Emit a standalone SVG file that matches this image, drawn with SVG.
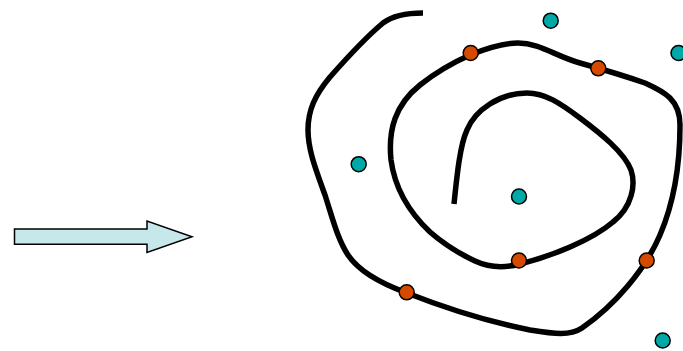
<svg xmlns="http://www.w3.org/2000/svg" width="683" height="351" viewBox="0 0 683 351">
<style>
.spiral{fill:none;stroke:#000;stroke-width:5.5;stroke-linecap:butt;stroke-linejoin:round}
.arrow{fill:#C7E8EA;stroke:#000;stroke-width:1.5;stroke-linejoin:miter}
.red{fill:#D64A00;stroke:#000;stroke-width:1.5}
.teal{fill:#00A8A8;stroke:#000;stroke-width:1.5}
</style>
<rect width="683" height="351" fill="#fff"/>
<g id="arrow">
<path class="arrow" d="M14.5,229 L147,229 L147,221 L192,236.7 L147,252.5 L147,244.3 L14.5,244.3 Z"/>
</g>
<g id="connectors">
<path id="spiral" class="spiral" d="M454,204 C457,175 460,145 467,130 C475,110 500,93 527,93 C545,93 560,103 580,118 C600,133 624,152 631,170 C636,185 632,207 613,222 C592,240 552,256 520,264 C505,268 490,268 475,261 C460,254 445,245 430,232 C410,213 395,190 391,160 C388,130 395,105 420,85 C435,73 452,63 470,55 C490,47 505,43 518,43 C540,43 555,56 580,63 C605,70 625,76 645,83 C665,92 680,100 680,125 C680,160 675,200 660,235 C645,270 615,305 582,328 C570,336 555,334 530,330 C490,322 445,308 407,293 C385,285 360,273 348,255 C338,240 333,220 325,195 C316,170 308,150 308,130 C308,110 315,95 330,77 C345,60 365,38 383,23 C395,14 410,13 423,13"/>
</g>
<g id="red1"><circle class="red" cx="470.7" cy="53" r="7.5"/></g>
<g id="red2"><circle class="red" cx="598.3" cy="68.3" r="7.5"/></g>
<g id="red3"><circle class="red" cx="519" cy="260.5" r="7.5"/></g>
<g id="red4"><circle class="red" cx="646.7" cy="260.5" r="7.5"/></g>
<g id="red5"><circle class="red" cx="406.7" cy="292.3" r="7.5"/></g>
<g id="teal1"><circle class="teal" cx="550.7" cy="20.7" r="7.5"/></g>
<g id="teal2"><circle class="teal" cx="678.5" cy="53" r="7.5"/></g>
<g id="teal3"><circle class="teal" cx="358.7" cy="164.2" r="7.5"/></g>
<g id="teal4"><circle class="teal" cx="519" cy="196.5" r="7.5"/></g>
<g id="teal5"><circle class="teal" cx="662.7" cy="340.5" r="7.5"/></g>
</svg>
